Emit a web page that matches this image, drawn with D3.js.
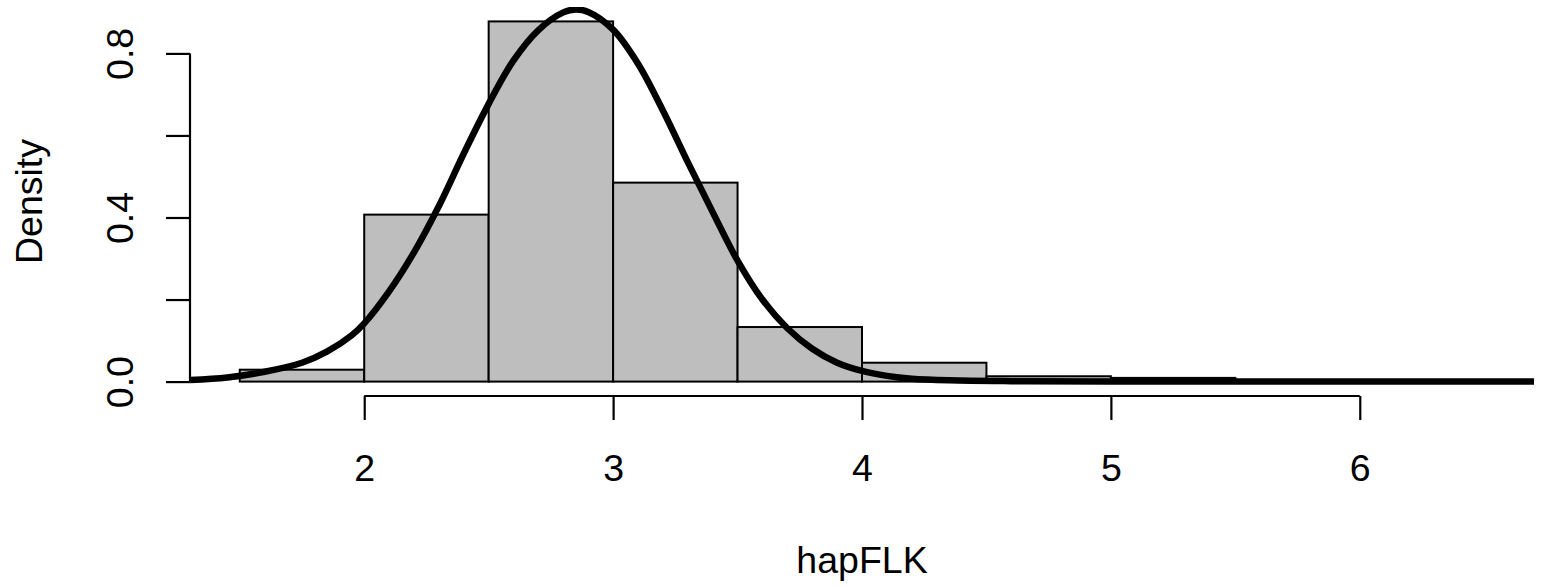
<!DOCTYPE html>
<html>
<head>
<meta charset="utf-8">
<script src="https://cdn.jsdelivr.net/npm/d3@7"></script>
<style>
  html, body { margin: 0; padding: 0; background: #fff; }
  svg { display: block; font-family: "Liberation Sans", Arial, Helvetica, sans-serif; }
</style>
</head>
<body>
<svg id="chart"></svg>
<script>
// histogram bins (density scale)
const breaks = [1.5, 2, 2.5, 3, 3.5, 4, 4.5, 5, 5.5, 6, 6.5];
const densities = [0.029, 0.407, 0.878, 0.485, 0.133, 0.046, 0.013, 0.009, 0.002, 0.002];

// fitted density curve
const curveX = [1.30, 1.45, 1.60, 1.75, 1.85, 1.95, 2.00, 2.10, 2.20, 2.30, 2.40, 2.50, 2.60, 2.70, 2.80, 2.85, 2.90, 3.00, 3.10, 3.20, 3.30, 3.40, 3.50, 3.60, 3.70, 3.80, 3.90, 4.00, 4.10, 4.20, 4.35, 4.60, 5.00, 6.70];
const curveY = [0.004, 0.010, 0.024, 0.046, 0.073, 0.113, 0.142, 0.220, 0.315, 0.428, 0.556, 0.677, 0.783, 0.857, 0.900, 0.907, 0.901, 0.858, 0.775, 0.661, 0.535, 0.413, 0.295, 0.200, 0.130, 0.080, 0.046, 0.026, 0.014, 0.007, 0.003, 0.001, 0.0003, 0];

const xTicks = [2, 3, 4, 5, 6];
const yTicks = [0, 0.2, 0.4, 0.6, 0.8];
const yTickLabels = ["0.0", "", "0.4", "", "0.8"];

const width = 1550, height = 587;
const plot = { left: 190, right: 1534, top: 7, bottom: 396 };

const svg = d3.select("#chart")
  .attr("width", width)
  .attr("height", height);

// R style 4% extension around the data ranges
const xlim = [breaks[0], breaks[breaks.length - 1]];
const xPad = (xlim[1] - xlim[0]) * 0.04;
const ylim = [0, d3.max(densities)];
const yPad = (ylim[1] - ylim[0]) * 0.04;

const x = d3.scaleLinear()
  .domain([xlim[0] - xPad, xlim[1] + xPad])
  .range([plot.left, plot.right]);
const y = d3.scaleLinear()
  .domain([ylim[0] - yPad, ylim[1] + yPad])
  .range([plot.bottom, plot.top]);

svg.append("defs").append("clipPath")
  .attr("id", "plotClip")
  .append("rect")
  .attr("x", plot.left)
  .attr("y", plot.top)
  .attr("width", plot.right - plot.left)
  .attr("height", plot.bottom - plot.top);

const bins = densities.map((d, i) => ({ x0: breaks[i], x1: breaks[i + 1], d: d }));

svg.append("g")
  .selectAll("rect")
  .data(bins)
  .enter()
  .append("rect")
  .attr("x", b => x(b.x0))
  .attr("y", b => y(b.d))
  .attr("width", b => x(b.x1) - x(b.x0))
  .attr("height", b => y(0) - y(b.d))
  .attr("fill", "#bebebe")
  .attr("stroke", "#000")
  .attr("stroke-width", 2);

const pts = curveX.map((v, i) => [v, curveY[i]]);
const line = d3.line()
  .x(p => x(p[0]))
  .y(p => y(p[1]))
  .curve(d3.curveCatmullRom.alpha(0.5));

svg.append("path")
  .datum(pts)
  .attr("clip-path", "url(#plotClip)")
  .attr("d", line)
  .attr("fill", "none")
  .attr("stroke", "#000")
  .attr("stroke-width", 6.5)
  .attr("stroke-linejoin", "round");

// x axis
const xAxis = svg.append("g")
  .attr("transform", `translate(0,${plot.bottom})`)
  .call(d3.axisBottom(x).tickValues(xTicks).tickSize(24).tickSizeOuter(0).tickFormat(d3.format("d")));
xAxis.select(".domain")
  .attr("d", `M${x(xTicks[0])},0H${x(xTicks[xTicks.length - 1])}`)
  .attr("stroke-width", 2.2);
xAxis.selectAll(".tick line").attr("stroke-width", 2.2);
xAxis.selectAll(".tick text")
  .attr("y", 85)
  .attr("dy", 0)
  .attr("font-size", 37.5)
  .attr("fill", "#000");

// y axis
const yAxis = svg.append("g")
  .attr("transform", `translate(${plot.left},0)`)
  .call(d3.axisLeft(y).tickValues(yTicks).tickSize(24).tickSizeOuter(0)
    .tickFormat((d, i) => yTickLabels[i]));
yAxis.select(".domain")
  .attr("d", `M0,${y(yTicks[0])}V${y(yTicks[yTicks.length - 1])}`)
  .attr("stroke-width", 2.2);
yAxis.selectAll(".tick line").attr("stroke-width", 2.2);
yAxis.selectAll(".tick text")
  .attr("x", 0)
  .attr("y", 0)
  .attr("dy", 0)
  .attr("transform", "translate(-57,0) rotate(-90)")
  .attr("text-anchor", "middle")
  .attr("font-size", 37.5)
  .attr("fill", "#000");

// axis titles
svg.append("text")
  .attr("x", (plot.left + plot.right) / 2)
  .attr("y", 573)
  .attr("text-anchor", "middle")
  .attr("font-size", 37.5)
  .text("hapFLK");

svg.append("text")
  .attr("transform", `translate(42,${(plot.top + plot.bottom) / 2}) rotate(-90)`)
  .attr("text-anchor", "middle")
  .attr("font-size", 37.5)
  .text("Density");
</script>
</body>
</html>
